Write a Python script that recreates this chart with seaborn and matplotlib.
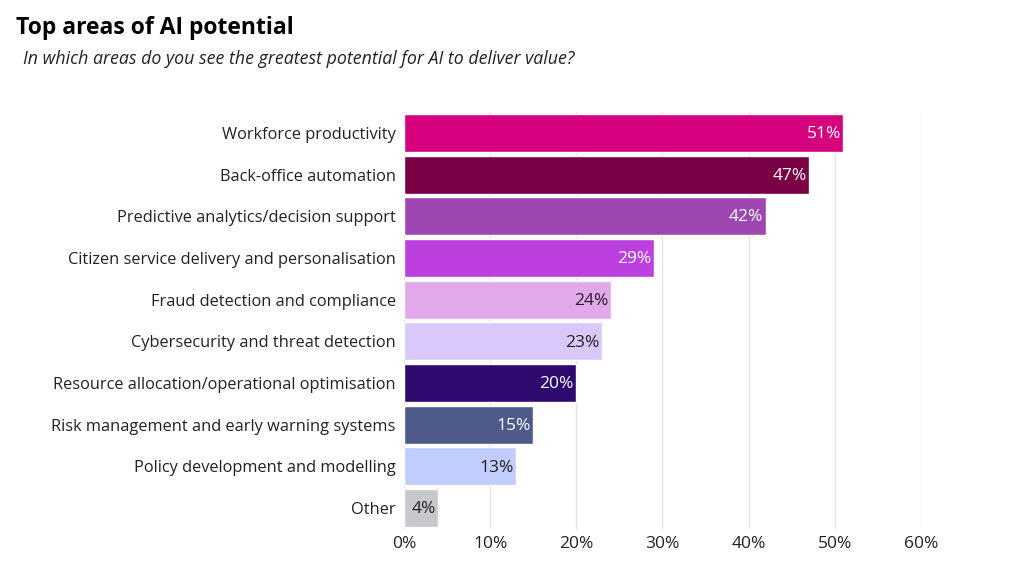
import matplotlib
matplotlib.use("Agg")
import matplotlib.pyplot as plt
import seaborn as sns
import pandas as pd
from matplotlib.ticker import FuncFormatter

categories = [
    "Workforce productivity",
    "Back-office automation",
    "Predictive analytics/decision support",
    "Citizen service delivery and personalisation",
    "Fraud detection and compliance",
    "Cybersecurity and threat detection",
    "Resource allocation/operational optimisation",
    "Risk management and early warning systems",
    "Policy development and modelling",
    "Other",
]
values = [51, 47, 42, 29, 24, 23, 20, 15, 13, 4]
colors = ["#D6007F", "#7A0046", "#9E47B3", "#BD3FE0", "#E2A8EC",
          "#D9C8FA", "#2E0A6E", "#4E5A8A", "#C2CDFF", "#C6C8CC"]
label_colors = ["white", "white", "white", "white", "#222222",
                "#222222", "white", "white", "#222222", "#222222"]
xticks = [0, 10, 20, 30, 40, 50, 60]

sns.set_theme(style="white")
plt.rcParams["font.family"] = ["Open Sans", "DejaVu Sans"]

df = pd.DataFrame({"area": categories, "pct": values})

fig = plt.figure(figsize=(10.24, 5.76), dpi=100)
ax = fig.add_axes([0.3945, 0.0816, 0.8994 - 0.3945, 0.8056 - 0.0816])

sns.barplot(data=df, y="area", x="pct", hue="area", palette=dict(zip(categories, colors)),
            order=categories, legend=False, width=0.91, ax=ax, saturation=1)

for i, patch in enumerate(ax.patches):
    w = patch.get_width()
    y = patch.get_y() + patch.get_height() / 2
    ax.text(w - 0.3, y + 0.03, f"{values[i]}%", ha="right", va="center",
            color=label_colors[i], fontsize=12.5)

ax.set_xlim(0, 60)
ax.set_xticks(xticks)
ax.xaxis.set_major_formatter(FuncFormatter(lambda v, p: f"{int(v)}%"))
ax.grid(axis="x", color="#E3E3E3", linewidth=1)
ax.set_axisbelow(True)
for s in ax.spines.values():
    s.set_visible(False)
ax.set_xlabel("")
ax.set_ylabel("")
ax.tick_params(axis="both", length=0, colors="#222222")
ax.tick_params(axis="y", pad=6, labelsize=11.8)
ax.tick_params(axis="x", pad=5, labelsize=12.5)

fig.text(0.016, 0.952, "Top areas of AI potential", fontsize=16.5, fontweight="bold",
         ha="left", va="center", color="black")
fig.text(0.022, 0.898, "In which areas do you see the greatest potential for AI to deliver value?",
         fontsize=12.8, style="italic", ha="left", va="center", color="#222222")

fig.savefig("out.png", dpi=100)
